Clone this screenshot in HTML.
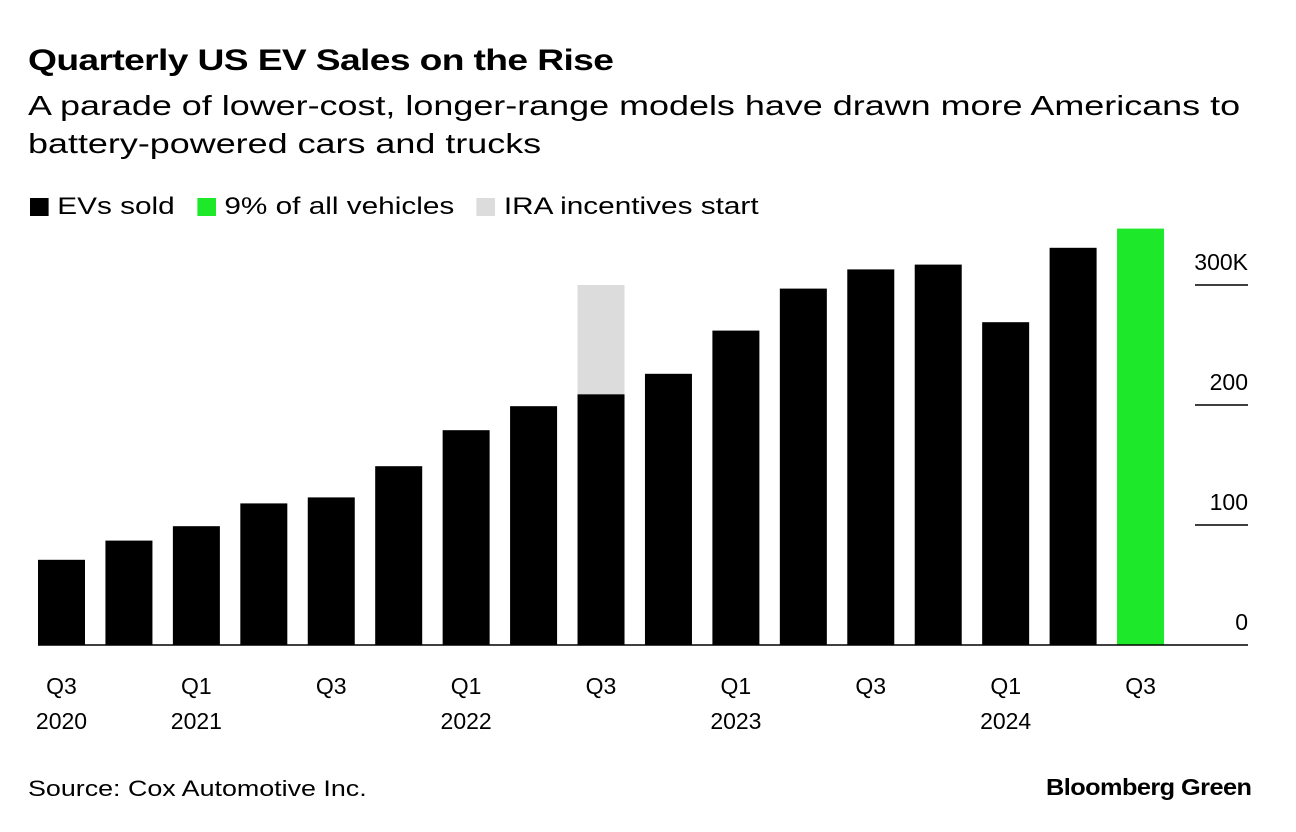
<!DOCTYPE html>
<html><head><meta charset="utf-8"><style>
body{margin:0;width:1296px;height:832px;background:#fff;font-family:"Liberation Sans",Arial,sans-serif;color:#000;overflow:hidden;position:relative}
.t{position:absolute;white-space:nowrap;transform-origin:left top}
</style></head><body>
<div class="t" style="left:28px;top:44px;font-size:30px;font-weight:bold;letter-spacing:-0.5px;transform:scaleX(1.24)">Quarterly US EV Sales on the Rise</div>
<div class="t" style="left:28px;top:87px;font-size:28px;line-height:38px;transform:scaleX(1.283)">A parade of lower-cost, longer-range models have drawn more Americans to<br>battery-powered cars and trucks</div>
<div class="t" style="left:30px;top:193px;font-size:24px;display:flex;align-items:center;transform:scaleX(1.24)">
<span style="display:flex;align-items:center"><span style="display:inline-block;width:15px;height:18px;background:#000;margin-right:7px"></span>EVs sold</span>
<span style="display:flex;align-items:center;margin-left:18px"><span style="display:inline-block;width:15px;height:18px;background:#1ee82a;margin-right:7px"></span>9% of all vehicles</span>
<span style="display:flex;align-items:center;margin-left:18px"><span style="display:inline-block;width:15px;height:18px;background:#dcdcdc;margin-right:7px"></span>IRA incentives start</span>
</div>
<svg id="c" width="1296" height="832" style="position:absolute;left:0;top:0"></svg>
<div class="t" style="left:28px;top:776px;font-size:22px;transform:scaleX(1.22)">Source: Cox Automotive Inc.</div>
<div class="t" style="left:1046px;top:774px;font-size:23px;font-weight:bold;letter-spacing:-0.5px;transform:scaleX(1.1)">Bloomberg Green</div>
<script>
const quarters=["Q3 2020","Q4 2020","Q1 2021","Q2 2021","Q3 2021","Q4 2021","Q1 2022","Q2 2022","Q3 2022","Q4 2022","Q1 2023","Q2 2023","Q3 2023","Q4 2023","Q1 2024","Q2 2024","Q3 2024"];
const evSales=[71,87,99,118,123,149,179,199,209,226,262,297,313,317,269,331,347];
const iraExtra=[0,0,0,0,0,0,0,0,91,0,0,0,0,0,0,0,0];
const xLabels=[["Q3","2020"],null,["Q1","2021"],null,["Q3",""],null,["Q1","2022"],null,["Q3",""],null,["Q1","2023"],null,["Q3",""],null,["Q1","2024"],null,["Q3",""]];
const yTicks=[0,100,200,300];
const yTickLabels=["0","100","200","300K"];
const svg=document.getElementById('c');const NS="http://www.w3.org/2000/svg";
const y=v=>645-v*1.2;
const x0=38,step=67.44,bw=47;
const xs=i=>x0+i*step;
function mk(t,a,txt){const e=document.createElementNS(NS,t);for(const k in a)e.setAttribute(k,a[k]);if(txt!==undefined)e.textContent=txt;svg.appendChild(e);return e;}
evSales.forEach((v,i)=>{
 const last=i===evSales.length-1;
 const r=mk('rect',{x:xs(i),y:y(v),width:bw,height:y(0)-y(v),fill:last?'#1ee82a':'#000'});
 
 
 if(iraExtra[i]>0){
  const g=mk('rect',{x:xs(i),y:y(v+iraExtra[i]),width:bw,height:y(v)-y(v+iraExtra[i]),fill:'#dcdcdc'});
  
  
 }
 if(xLabels[i]){
  const t=mk('text',{x:xs(i)+bw/2,y:694,'text-anchor':'middle','font-size':23,'font-family':'Liberation Sans, sans-serif'},xLabels[i][0]);
  
  
  if(xLabels[i][1]){const t2=mk('text',{x:xs(i)+bw/2,y:729,'text-anchor':'middle','font-size':23,'font-family':'Liberation Sans, sans-serif'},xLabels[i][1]);
  
  }
 }
});
yTicks.forEach((v,i)=>{
 if(v>0){const l=mk('line',{x1:1195,x2:1248,y1:y(v),y2:y(v),stroke:'#000','stroke-width':1.5});
 
 }
 const t=mk('text',{x:1248,y:y(v)-15,'text-anchor':'end','font-size':23,'font-family':'Liberation Sans, sans-serif'},yTickLabels[i]);
 
 
});
const b=mk('line',{x1:38,x2:1248,y1:y(0),y2:y(0),stroke:'#000','stroke-width':1.5});


</script>
</body></html>
